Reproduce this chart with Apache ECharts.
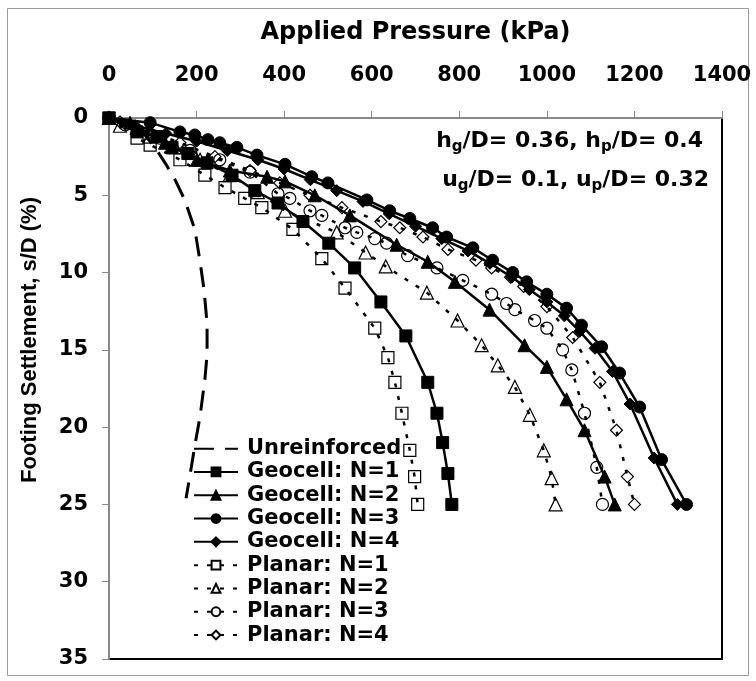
<!DOCTYPE html>
<html>
<head>
<meta charset="utf-8">
<script src="https://cdn.jsdelivr.net/npm/echarts@6/dist/echarts.min.js"></script>
<style>
  html, body { margin: 0; padding: 0; background: #fff; }
  #chart { width: 756px; height: 681px; }
</style>
</head>
<body>
<div id="chart"></div>
<script>
// values: pressure (kPa) and settlement s/D (%)
const xTicks = [0, 200, 400, 600, 800, 1000, 1200, 1400];
const yTicks = [0, 5, 10, 15, 20, 25, 30, 35];

const unreinfP = [0, 48, 82, 105, 128, 151, 173, 196, 208, 217, 224, 224, 219, 208, 196, 185, 176];
const unreinfS = [0, 0.45, 1.1, 1.9, 2.9, 4.0, 5.3, 7.2, 9.3, 11.1, 13.3, 15.3, 16.9, 19.3, 21.2, 23.1, 24.6];

const geo1P = [0, 64, 110, 144, 180, 224, 281, 333, 386, 443, 502, 561, 621, 678, 728, 749, 762, 774, 783];
const geo1S = [0, 0.9, 1.2, 1.9, 2.3, 2.9, 3.7, 4.7, 5.5, 6.7, 8.1, 9.7, 11.9, 14.1, 17.1, 19.1, 21.0, 23.0, 25.0];

const geo2P = [0, 48, 128, 201, 276, 361, 402, 470, 550, 657, 728, 790, 869, 949, 1000, 1045, 1086, 1132, 1155];
const geo2S = [0, 0.3, 1.6, 2.7, 3.4, 3.8, 4.1, 5.0, 6.3, 8.2, 9.3, 10.6, 12.4, 14.7, 16.1, 18.2, 20.2, 23.2, 25.0];

const geo3P = [0, 94, 162, 196, 226, 253, 292, 338, 402, 463, 500, 589, 641, 687, 739, 771, 831, 876, 922, 954, 1000, 1045, 1079, 1125, 1166, 1212, 1262, 1319];
const geo3S = [0, 0.3, 0.9, 1.1, 1.4, 1.6, 1.9, 2.4, 3.0, 3.8, 4.2, 5.3, 6.0, 6.5, 7.1, 7.7, 8.4, 9.2, 10.0, 10.6, 11.4, 12.3, 13.4, 14.8, 16.5, 18.7, 22.1, 25.0];

const geo4P = [0, 60, 130, 200, 270, 340, 400, 460, 520, 580, 640, 700, 760, 820, 870, 920, 960, 1000, 1040, 1075, 1110, 1150, 1190, 1245, 1298];
const geo4S = [0, 0.5, 1.0, 1.5, 2.1, 2.7, 3.3, 4.0, 4.7, 5.4, 6.2, 7.0, 7.8, 8.6, 9.4, 10.3, 11.1, 11.9, 12.8, 13.8, 14.9, 16.4, 18.5, 22.0, 25.0];

const pla1P = [0, 64, 94, 162, 219, 265, 310, 349, 420, 486, 539, 607, 637, 653, 669, 687, 698, 705];
const pla1S = [0, 1.3, 1.75, 2.7, 3.7, 4.5, 5.2, 5.8, 7.2, 9.1, 11.0, 13.6, 15.5, 17.1, 19.1, 21.5, 23.2, 25.0];

const pla2P = [0, 25, 94, 151, 208, 276, 340, 402, 520, 586, 632, 726, 796, 851, 888, 927, 961, 993, 1011, 1020];
const pla2S = [0, 0.5, 1.2, 1.9, 2.7, 3.7, 4.8, 6.0, 7.4, 8.7, 9.6, 11.3, 13.1, 14.7, 16.0, 17.4, 19.2, 21.5, 23.3, 25.0];

const pla3P = [0, 37, 116, 185, 253, 322, 386, 413, 459, 486, 539, 566, 607, 634, 682, 749, 808, 874, 908, 927, 972, 1000, 1036, 1057, 1086, 1114, 1127];
const pla3S = [0, 0.45, 1.3, 2.1, 2.7, 3.5, 4.9, 5.2, 6.0, 6.3, 7.1, 7.4, 7.8, 8.1, 8.9, 9.7, 10.5, 11.4, 12.0, 12.4, 13.1, 13.6, 15.0, 16.3, 19.1, 22.6, 25.0];

const pla4P = [0, 25, 94, 162, 242, 322, 390, 459, 532, 621, 664, 717, 774, 838, 874, 917, 947, 1000, 1059, 1121, 1159, 1184, 1200];
const pla4S = [0, 0.26, 0.9, 1.6, 2.5, 3.4, 4.2, 5.0, 5.8, 6.7, 7.1, 7.7, 8.5, 9.2, 9.7, 10.3, 10.9, 12.2, 14.2, 17.1, 20.2, 23.2, 25.0];

// the reference glyphs are wide: DejaVu Sans Bold matches their widths for horizontal text
const WIDE = '"DejaVu Sans", Verdana, sans-serif';
const ARIAL = '"Liberation Sans", Arial, sans-serif';

function pairs(p, s) {
    return p.map((v, i) => [v, s[i]]);
}

const solid = { color: '#000', width: 2.5, type: 'solid' };
const dotted = { color: '#000', width: 2.5, type: [4, 9] };
const filled = { color: '#000', borderColor: '#000', borderWidth: 1 };
const hollow = { color: 'rgba(255,255,255,0)', borderColor: '#000', borderWidth: 1.2 };

function line(name, p, s, symbol, size, lineStyle, itemStyle) {
    return {
        name, type: 'line',
        data: pairs(p, s),
        symbol, symbolSize: size,
        showSymbol: symbol !== 'none',
        lineStyle, itemStyle,
        animation: false,
        z: symbol === 'none' ? 1 : 2,
    };
}

const diamond = 'path://M0,-1L1,0L0,1L-1,0Z';

const series = [
    // no markers: transparent item colour keeps the legend sample a plain dashed line
    line('Unreinforced', unreinfP, unreinfS, 'none', 0, { color: '#000', width: 3, type: [20, 11] },
        { color: 'rgba(0,0,0,0)', borderWidth: 0 }),
    line('Geocell: N=1', geo1P, geo1S, 'rect', 12, solid, filled),
    line('Geocell: N=2', geo2P, geo2S, 'triangle', 13, solid, filled),
    line('Geocell: N=3', geo3P, geo3S, 'circle', 12, solid, filled),
    line('Geocell: N=4', geo4P, geo4S, diamond, 12, solid, filled),
    line('Planar: N=1', pla1P, pla1S, 'rect', 12, dotted, hollow),
    line('Planar: N=2', pla2P, pla2S, 'triangle', 13, dotted, hollow),
    line('Planar: N=3', pla3P, pla3S, 'circle', 12, dotted, hollow),
    line('Planar: N=4', pla4P, pla4S, diamond, 12, dotted, hollow),
];

const chart = echarts.init(document.getElementById('chart'), null, { renderer: 'canvas' });

const subRich = {
    m: { fontSize: 22, fontWeight: 'bold', fontFamily: WIDE, color: '#000', lineHeight: 28 },
    s: { fontSize: 15, fontWeight: 'bold', fontFamily: WIDE, color: '#000', lineHeight: 15, verticalAlign: 'bottom' },
};

chart.setOption({
    backgroundColor: '#fff',
    animation: false,
    grid: {
        left: 109, top: 118, right: 34, bottom: 22,
        show: true, borderColor: '#000', borderWidth: 2, backgroundColor: 'transparent',
    },
    xAxis: {
        type: 'value', position: 'top',
        min: xTicks[0], max: xTicks[xTicks.length - 1], interval: 200,
        axisLine: { show: true, lineStyle: { color: '#888', width: 2 } },
        axisTick: { show: true, inside: false, length: 7, lineStyle: { color: '#888', width: 1 } },
        splitLine: { show: false },
        axisLabel: {
            margin: 32, fontSize: 21, fontWeight: 'bold', fontFamily: WIDE, color: '#000',
            formatter: v => String(v),
        },
        name: 'Applied Pressure (kPa)', nameLocation: 'middle', nameGap: 73,
        nameTextStyle: { fontSize: 24, fontWeight: 'bold', fontFamily: WIDE, color: '#000' },
    },
    yAxis: {
        type: 'value', inverse: true,
        min: yTicks[0], max: yTicks[yTicks.length - 1], interval: 5,
        axisLine: { show: true, lineStyle: { color: '#888', width: 2 } },
        axisTick: { show: true, inside: false, length: 7, lineStyle: { color: '#888', width: 1 } },
        splitLine: { show: false },
        axisLabel: { margin: 21, fontSize: 21, fontWeight: 'bold', fontFamily: WIDE, color: '#000' },
    },
    legend: {
        orient: 'vertical', left: 193, top: 437,
        itemWidth: 44, itemHeight: 11, itemGap: 0, padding: 0,
        textStyle: {
            fontSize: 21, fontWeight: 'bold', fontFamily: WIDE, color: '#000',
            lineHeight: 23.3, padding: [0, 0, 0, 4],
        },
        data: series.map(s => s.name),
    },
    graphic: [
        {
            type: 'rect', silent: true,
            shape: { x: 7.5, y: 8.5, width: 741, height: 667 },
            style: { fill: 'none', stroke: '#999', lineWidth: 1 },
        },
        {
            type: 'text', silent: true, x: 30, y: 340, rotation: Math.PI / 2,
            style: {
                text: 'Footing Settlement, s/D (%)', align: 'center', verticalAlign: 'middle',
                font: 'bold 22px ' + ARIAL, fill: '#000',
            },
        },
        {
            type: 'text', silent: true, x: 703, y: 141,
            style: {
                text: '{m|h}{s|g}{m|/D= 0.36, h}{s|p}{m|/D= 0.4}',
                rich: subRich, align: 'right', verticalAlign: 'middle',
            },
        },
        {
            type: 'text', silent: true, x: 709, y: 180,
            style: {
                text: '{m|u}{s|g}{m|/D= 0.1, u}{s|p}{m|/D= 0.32}',
                rich: subRich, align: 'right', verticalAlign: 'middle',
            },
        },
    ],
    series,
});
</script>
</body>
</html>
